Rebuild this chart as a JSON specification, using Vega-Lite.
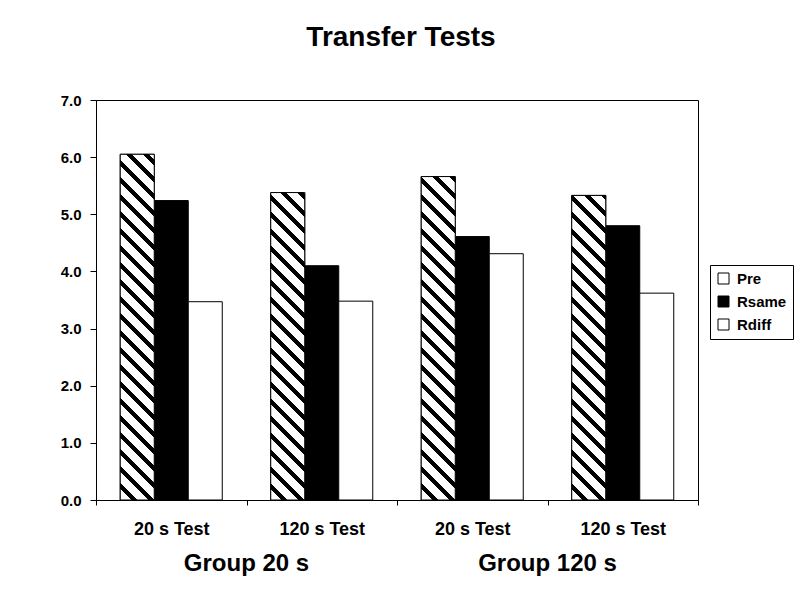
{
  "$schema": "https://vega.github.io/schema/vega-lite/v6.json",
  "width": 602,
  "height": 400,
  "autosize": {"type": "none"},
  "padding": {"left": 96, "top": 100, "right": 102, "bottom": 94},
  "background": "white",
  "title": {"text": "Transfer Tests", "fontSize": 28, "fontWeight": "bold", "font": "Liberation Sans", "color": "black", "anchor": "middle", "offset": 41, "dx": 4},
  "data": {"values": [
    {"cond": "Group 20 s|20 s Test", "group": "Group 20 s", "series": "Pre", "value": 6.05},
    {"cond": "Group 20 s|20 s Test", "group": "Group 20 s", "series": "Rsame", "value": 5.24},
    {"cond": "Group 20 s|20 s Test", "group": "Group 20 s", "series": "Rdiff", "value": 3.47},
    {"cond": "Group 20 s|120 s Test", "group": "Group 20 s", "series": "Pre", "value": 5.38},
    {"cond": "Group 20 s|120 s Test", "group": "Group 20 s", "series": "Rsame", "value": 4.10},
    {"cond": "Group 20 s|120 s Test", "group": "Group 20 s", "series": "Rdiff", "value": 3.48},
    {"cond": "Group 120 s|20 s Test", "group": "Group 120 s", "series": "Pre", "value": 5.66},
    {"cond": "Group 120 s|20 s Test", "group": "Group 120 s", "series": "Rsame", "value": 4.61},
    {"cond": "Group 120 s|20 s Test", "group": "Group 120 s", "series": "Rdiff", "value": 4.31},
    {"cond": "Group 120 s|120 s Test", "group": "Group 120 s", "series": "Pre", "value": 5.33},
    {"cond": "Group 120 s|120 s Test", "group": "Group 120 s", "series": "Rsame", "value": 4.80},
    {"cond": "Group 120 s|120 s Test", "group": "Group 120 s", "series": "Rdiff", "value": 3.62}
  ]},
  "layer": [
    {
      "encoding": {
        "x": {"field": "cond", "type": "nominal",
          "scale": {"type": "band", "domain": ["Group 20 s|20 s Test", "Group 20 s|120 s Test", "Group 120 s|20 s Test", "Group 120 s|120 s Test"], "paddingInner": 0, "paddingOuter": 0},
          "axis": {"title": null, "labelExpr": "split(datum.label, '|')[1]", "labelAngle": 0, "tickBand": "extent", "tickSize": 5, "labelPadding": 15, "labelFontSize": 18, "labelFontWeight": "bold", "labelColor": "black", "domainColor": "black", "tickColor": "black", "grid": false}},
        "xOffset": {"field": "series", "type": "nominal", "scale": {"type": "band", "domain": ["Pre", "Rsame", "Rdiff"], "paddingInner": 0, "paddingOuter": 0.713}},
        "y": {"field": "value", "type": "quantitative",
          "scale": {"domain": [0, 7], "nice": false},
          "axis": {"title": null, "values": [0, 1, 2, 3, 4, 5, 6, 7], "format": ".1f", "tickSize": 6, "labelPadding": 9, "labelFontSize": 15, "labelFontWeight": "bold", "labelColor": "black", "domainColor": "black", "tickColor": "black", "grid": false}}
      },
      "layer": [
        {
          "mark": {"type": "bar", "stroke": "black", "strokeWidth": 1},
          "encoding": {
            "color": {"field": "series", "type": "nominal",
              "scale": {"domain": ["Pre", "Rsame", "Rdiff"], "range": ["white", "black", "white"]},
              "legend": {"title": null, "orient": "none", "legendX": 614, "legendY": 165, "labelFontSize": 15, "labelFontWeight": "bold", "labelFont": "Liberation Sans", "labelColor": "black", "symbolType": "square", "symbolSize": 121, "symbolStrokeColor": "black", "symbolStrokeWidth": 1, "strokeColor": "black", "padding": 6, "rowPadding": 7, "labelOffset": 6}}
          }
        },
        {
          "transform": [{"filter": "datum.cond === 'Group 20 s|20 s Test' && datum.series === 'Pre'"}],
          "mark": {"type": "bar", "stroke": "black", "strokeWidth": 1, "fill": {"gradient": "linear", "x1": 0, "y1": 1, "x2": 0.1197, "y2": -0.2175, "stops": [{"offset":0,"color":"#fff"},{"offset":0.026,"color":"#fff"},{"offset":0.026,"color":"#000"},{"offset":0.04,"color":"#000"},{"offset":0.04,"color":"#fff"},{"offset":0.066,"color":"#fff"},{"offset":0.066,"color":"#000"},{"offset":0.08,"color":"#000"},{"offset":0.08,"color":"#fff"},{"offset":0.106,"color":"#fff"},{"offset":0.106,"color":"#000"},{"offset":0.12,"color":"#000"},{"offset":0.12,"color":"#fff"},{"offset":0.146,"color":"#fff"},{"offset":0.146,"color":"#000"},{"offset":0.16,"color":"#000"},{"offset":0.16,"color":"#fff"},{"offset":0.186,"color":"#fff"},{"offset":0.186,"color":"#000"},{"offset":0.2,"color":"#000"},{"offset":0.2,"color":"#fff"},{"offset":0.226,"color":"#fff"},{"offset":0.226,"color":"#000"},{"offset":0.24,"color":"#000"},{"offset":0.24,"color":"#fff"},{"offset":0.266,"color":"#fff"},{"offset":0.266,"color":"#000"},{"offset":0.28,"color":"#000"},{"offset":0.28,"color":"#fff"},{"offset":0.306,"color":"#fff"},{"offset":0.306,"color":"#000"},{"offset":0.32,"color":"#000"},{"offset":0.32,"color":"#fff"},{"offset":0.346,"color":"#fff"},{"offset":0.346,"color":"#000"},{"offset":0.36,"color":"#000"},{"offset":0.36,"color":"#fff"},{"offset":0.386,"color":"#fff"},{"offset":0.386,"color":"#000"},{"offset":0.4,"color":"#000"},{"offset":0.4,"color":"#fff"},{"offset":0.426,"color":"#fff"},{"offset":0.426,"color":"#000"},{"offset":0.44,"color":"#000"},{"offset":0.44,"color":"#fff"},{"offset":0.466,"color":"#fff"},{"offset":0.466,"color":"#000"},{"offset":0.48,"color":"#000"},{"offset":0.48,"color":"#fff"},{"offset":0.506,"color":"#fff"},{"offset":0.506,"color":"#000"},{"offset":0.52,"color":"#000"},{"offset":0.52,"color":"#fff"},{"offset":0.546,"color":"#fff"},{"offset":0.546,"color":"#000"},{"offset":0.56,"color":"#000"},{"offset":0.56,"color":"#fff"},{"offset":0.586,"color":"#fff"},{"offset":0.586,"color":"#000"},{"offset":0.6,"color":"#000"},{"offset":0.6,"color":"#fff"},{"offset":0.626,"color":"#fff"},{"offset":0.626,"color":"#000"},{"offset":0.64,"color":"#000"},{"offset":0.64,"color":"#fff"},{"offset":0.666,"color":"#fff"},{"offset":0.666,"color":"#000"},{"offset":0.68,"color":"#000"},{"offset":0.68,"color":"#fff"},{"offset":0.706,"color":"#fff"},{"offset":0.706,"color":"#000"},{"offset":0.72,"color":"#000"},{"offset":0.72,"color":"#fff"},{"offset":0.746,"color":"#fff"},{"offset":0.746,"color":"#000"},{"offset":0.76,"color":"#000"},{"offset":0.76,"color":"#fff"},{"offset":0.786,"color":"#fff"},{"offset":0.786,"color":"#000"},{"offset":0.8,"color":"#000"},{"offset":0.8,"color":"#fff"},{"offset":0.826,"color":"#fff"},{"offset":0.826,"color":"#000"},{"offset":0.84,"color":"#000"},{"offset":0.84,"color":"#fff"},{"offset":0.866,"color":"#fff"},{"offset":0.866,"color":"#000"},{"offset":0.88,"color":"#000"},{"offset":0.88,"color":"#fff"},{"offset":0.906,"color":"#fff"},{"offset":0.906,"color":"#000"},{"offset":0.92,"color":"#000"},{"offset":0.92,"color":"#fff"},{"offset":1,"color":"#fff"}]}}
        },
        {
          "transform": [{"filter": "datum.cond === 'Group 20 s|120 s Test' && datum.series === 'Pre'"}],
          "mark": {"type": "bar", "stroke": "black", "strokeWidth": 1, "fill": {"gradient": "linear", "x1": 0, "y1": 1, "x2": 0.1511, "y2": -0.3658, "stops": [{"offset":0,"color":"#fff"},{"offset":0.026,"color":"#fff"},{"offset":0.026,"color":"#000"},{"offset":0.04,"color":"#000"},{"offset":0.04,"color":"#fff"},{"offset":0.066,"color":"#fff"},{"offset":0.066,"color":"#000"},{"offset":0.08,"color":"#000"},{"offset":0.08,"color":"#fff"},{"offset":0.106,"color":"#fff"},{"offset":0.106,"color":"#000"},{"offset":0.12,"color":"#000"},{"offset":0.12,"color":"#fff"},{"offset":0.146,"color":"#fff"},{"offset":0.146,"color":"#000"},{"offset":0.16,"color":"#000"},{"offset":0.16,"color":"#fff"},{"offset":0.186,"color":"#fff"},{"offset":0.186,"color":"#000"},{"offset":0.2,"color":"#000"},{"offset":0.2,"color":"#fff"},{"offset":0.226,"color":"#fff"},{"offset":0.226,"color":"#000"},{"offset":0.24,"color":"#000"},{"offset":0.24,"color":"#fff"},{"offset":0.266,"color":"#fff"},{"offset":0.266,"color":"#000"},{"offset":0.28,"color":"#000"},{"offset":0.28,"color":"#fff"},{"offset":0.306,"color":"#fff"},{"offset":0.306,"color":"#000"},{"offset":0.32,"color":"#000"},{"offset":0.32,"color":"#fff"},{"offset":0.346,"color":"#fff"},{"offset":0.346,"color":"#000"},{"offset":0.36,"color":"#000"},{"offset":0.36,"color":"#fff"},{"offset":0.386,"color":"#fff"},{"offset":0.386,"color":"#000"},{"offset":0.4,"color":"#000"},{"offset":0.4,"color":"#fff"},{"offset":0.426,"color":"#fff"},{"offset":0.426,"color":"#000"},{"offset":0.44,"color":"#000"},{"offset":0.44,"color":"#fff"},{"offset":0.466,"color":"#fff"},{"offset":0.466,"color":"#000"},{"offset":0.48,"color":"#000"},{"offset":0.48,"color":"#fff"},{"offset":0.506,"color":"#fff"},{"offset":0.506,"color":"#000"},{"offset":0.52,"color":"#000"},{"offset":0.52,"color":"#fff"},{"offset":0.546,"color":"#fff"},{"offset":0.546,"color":"#000"},{"offset":0.56,"color":"#000"},{"offset":0.56,"color":"#fff"},{"offset":0.586,"color":"#fff"},{"offset":0.586,"color":"#000"},{"offset":0.6,"color":"#000"},{"offset":0.6,"color":"#fff"},{"offset":0.626,"color":"#fff"},{"offset":0.626,"color":"#000"},{"offset":0.64,"color":"#000"},{"offset":0.64,"color":"#fff"},{"offset":0.666,"color":"#fff"},{"offset":0.666,"color":"#000"},{"offset":0.68,"color":"#000"},{"offset":0.68,"color":"#fff"},{"offset":0.706,"color":"#fff"},{"offset":0.706,"color":"#000"},{"offset":0.72,"color":"#000"},{"offset":0.72,"color":"#fff"},{"offset":0.746,"color":"#fff"},{"offset":0.746,"color":"#000"},{"offset":0.76,"color":"#000"},{"offset":0.76,"color":"#fff"},{"offset":0.786,"color":"#fff"},{"offset":0.786,"color":"#000"},{"offset":0.8,"color":"#000"},{"offset":0.8,"color":"#fff"},{"offset":0.826,"color":"#fff"},{"offset":0.826,"color":"#000"},{"offset":0.84,"color":"#000"},{"offset":0.84,"color":"#fff"},{"offset":0.866,"color":"#fff"},{"offset":0.866,"color":"#000"},{"offset":0.88,"color":"#000"},{"offset":0.88,"color":"#fff"},{"offset":0.906,"color":"#fff"},{"offset":0.906,"color":"#000"},{"offset":0.92,"color":"#000"},{"offset":0.92,"color":"#fff"},{"offset":1,"color":"#fff"}]}}
        },
        {
          "transform": [{"filter": "datum.cond === 'Group 120 s|20 s Test' && datum.series === 'Pre'"}],
          "mark": {"type": "bar", "stroke": "black", "strokeWidth": 1, "fill": {"gradient": "linear", "x1": 0, "y1": 1, "x2": 0.1366, "y2": -0.2996, "stops": [{"offset":0,"color":"#fff"},{"offset":0.026,"color":"#fff"},{"offset":0.026,"color":"#000"},{"offset":0.04,"color":"#000"},{"offset":0.04,"color":"#fff"},{"offset":0.066,"color":"#fff"},{"offset":0.066,"color":"#000"},{"offset":0.08,"color":"#000"},{"offset":0.08,"color":"#fff"},{"offset":0.106,"color":"#fff"},{"offset":0.106,"color":"#000"},{"offset":0.12,"color":"#000"},{"offset":0.12,"color":"#fff"},{"offset":0.146,"color":"#fff"},{"offset":0.146,"color":"#000"},{"offset":0.16,"color":"#000"},{"offset":0.16,"color":"#fff"},{"offset":0.186,"color":"#fff"},{"offset":0.186,"color":"#000"},{"offset":0.2,"color":"#000"},{"offset":0.2,"color":"#fff"},{"offset":0.226,"color":"#fff"},{"offset":0.226,"color":"#000"},{"offset":0.24,"color":"#000"},{"offset":0.24,"color":"#fff"},{"offset":0.266,"color":"#fff"},{"offset":0.266,"color":"#000"},{"offset":0.28,"color":"#000"},{"offset":0.28,"color":"#fff"},{"offset":0.306,"color":"#fff"},{"offset":0.306,"color":"#000"},{"offset":0.32,"color":"#000"},{"offset":0.32,"color":"#fff"},{"offset":0.346,"color":"#fff"},{"offset":0.346,"color":"#000"},{"offset":0.36,"color":"#000"},{"offset":0.36,"color":"#fff"},{"offset":0.386,"color":"#fff"},{"offset":0.386,"color":"#000"},{"offset":0.4,"color":"#000"},{"offset":0.4,"color":"#fff"},{"offset":0.426,"color":"#fff"},{"offset":0.426,"color":"#000"},{"offset":0.44,"color":"#000"},{"offset":0.44,"color":"#fff"},{"offset":0.466,"color":"#fff"},{"offset":0.466,"color":"#000"},{"offset":0.48,"color":"#000"},{"offset":0.48,"color":"#fff"},{"offset":0.506,"color":"#fff"},{"offset":0.506,"color":"#000"},{"offset":0.52,"color":"#000"},{"offset":0.52,"color":"#fff"},{"offset":0.546,"color":"#fff"},{"offset":0.546,"color":"#000"},{"offset":0.56,"color":"#000"},{"offset":0.56,"color":"#fff"},{"offset":0.586,"color":"#fff"},{"offset":0.586,"color":"#000"},{"offset":0.6,"color":"#000"},{"offset":0.6,"color":"#fff"},{"offset":0.626,"color":"#fff"},{"offset":0.626,"color":"#000"},{"offset":0.64,"color":"#000"},{"offset":0.64,"color":"#fff"},{"offset":0.666,"color":"#fff"},{"offset":0.666,"color":"#000"},{"offset":0.68,"color":"#000"},{"offset":0.68,"color":"#fff"},{"offset":0.706,"color":"#fff"},{"offset":0.706,"color":"#000"},{"offset":0.72,"color":"#000"},{"offset":0.72,"color":"#fff"},{"offset":0.746,"color":"#fff"},{"offset":0.746,"color":"#000"},{"offset":0.76,"color":"#000"},{"offset":0.76,"color":"#fff"},{"offset":0.786,"color":"#fff"},{"offset":0.786,"color":"#000"},{"offset":0.8,"color":"#000"},{"offset":0.8,"color":"#fff"},{"offset":0.826,"color":"#fff"},{"offset":0.826,"color":"#000"},{"offset":0.84,"color":"#000"},{"offset":0.84,"color":"#fff"},{"offset":0.866,"color":"#fff"},{"offset":0.866,"color":"#000"},{"offset":0.88,"color":"#000"},{"offset":0.88,"color":"#fff"},{"offset":0.906,"color":"#fff"},{"offset":0.906,"color":"#000"},{"offset":0.92,"color":"#000"},{"offset":0.92,"color":"#fff"},{"offset":1,"color":"#fff"}]}}
        },
        {
          "transform": [{"filter": "datum.cond === 'Group 120 s|120 s Test' && datum.series === 'Pre'"}],
          "mark": {"type": "bar", "stroke": "black", "strokeWidth": 1, "fill": {"gradient": "linear", "x1": 0, "y1": 1, "x2": 0.1538, "y2": -0.3782, "stops": [{"offset":0,"color":"#fff"},{"offset":0.026,"color":"#fff"},{"offset":0.026,"color":"#000"},{"offset":0.04,"color":"#000"},{"offset":0.04,"color":"#fff"},{"offset":0.066,"color":"#fff"},{"offset":0.066,"color":"#000"},{"offset":0.08,"color":"#000"},{"offset":0.08,"color":"#fff"},{"offset":0.106,"color":"#fff"},{"offset":0.106,"color":"#000"},{"offset":0.12,"color":"#000"},{"offset":0.12,"color":"#fff"},{"offset":0.146,"color":"#fff"},{"offset":0.146,"color":"#000"},{"offset":0.16,"color":"#000"},{"offset":0.16,"color":"#fff"},{"offset":0.186,"color":"#fff"},{"offset":0.186,"color":"#000"},{"offset":0.2,"color":"#000"},{"offset":0.2,"color":"#fff"},{"offset":0.226,"color":"#fff"},{"offset":0.226,"color":"#000"},{"offset":0.24,"color":"#000"},{"offset":0.24,"color":"#fff"},{"offset":0.266,"color":"#fff"},{"offset":0.266,"color":"#000"},{"offset":0.28,"color":"#000"},{"offset":0.28,"color":"#fff"},{"offset":0.306,"color":"#fff"},{"offset":0.306,"color":"#000"},{"offset":0.32,"color":"#000"},{"offset":0.32,"color":"#fff"},{"offset":0.346,"color":"#fff"},{"offset":0.346,"color":"#000"},{"offset":0.36,"color":"#000"},{"offset":0.36,"color":"#fff"},{"offset":0.386,"color":"#fff"},{"offset":0.386,"color":"#000"},{"offset":0.4,"color":"#000"},{"offset":0.4,"color":"#fff"},{"offset":0.426,"color":"#fff"},{"offset":0.426,"color":"#000"},{"offset":0.44,"color":"#000"},{"offset":0.44,"color":"#fff"},{"offset":0.466,"color":"#fff"},{"offset":0.466,"color":"#000"},{"offset":0.48,"color":"#000"},{"offset":0.48,"color":"#fff"},{"offset":0.506,"color":"#fff"},{"offset":0.506,"color":"#000"},{"offset":0.52,"color":"#000"},{"offset":0.52,"color":"#fff"},{"offset":0.546,"color":"#fff"},{"offset":0.546,"color":"#000"},{"offset":0.56,"color":"#000"},{"offset":0.56,"color":"#fff"},{"offset":0.586,"color":"#fff"},{"offset":0.586,"color":"#000"},{"offset":0.6,"color":"#000"},{"offset":0.6,"color":"#fff"},{"offset":0.626,"color":"#fff"},{"offset":0.626,"color":"#000"},{"offset":0.64,"color":"#000"},{"offset":0.64,"color":"#fff"},{"offset":0.666,"color":"#fff"},{"offset":0.666,"color":"#000"},{"offset":0.68,"color":"#000"},{"offset":0.68,"color":"#fff"},{"offset":0.706,"color":"#fff"},{"offset":0.706,"color":"#000"},{"offset":0.72,"color":"#000"},{"offset":0.72,"color":"#fff"},{"offset":0.746,"color":"#fff"},{"offset":0.746,"color":"#000"},{"offset":0.76,"color":"#000"},{"offset":0.76,"color":"#fff"},{"offset":0.786,"color":"#fff"},{"offset":0.786,"color":"#000"},{"offset":0.8,"color":"#000"},{"offset":0.8,"color":"#fff"},{"offset":0.826,"color":"#fff"},{"offset":0.826,"color":"#000"},{"offset":0.84,"color":"#000"},{"offset":0.84,"color":"#fff"},{"offset":0.866,"color":"#fff"},{"offset":0.866,"color":"#000"},{"offset":0.88,"color":"#000"},{"offset":0.88,"color":"#fff"},{"offset":0.906,"color":"#fff"},{"offset":0.906,"color":"#000"},{"offset":0.92,"color":"#000"},{"offset":0.92,"color":"#fff"},{"offset":1,"color":"#fff"}]}}
        }
      ]
    },
    {
      "mark": {"type": "text"},
      "encoding": {
        "x": {"field": "group", "type": "nominal",
          "scale": {"type": "band", "domain": ["Group 20 s", "Group 120 s"], "paddingInner": 0, "paddingOuter": 0},
          "axis": {"orient": "bottom", "title": null, "ticks": false, "tickSize": 0, "domain": false, "labelAngle": 0, "labelPadding": 51, "labelFontSize": 24, "labelFontWeight": "bold", "labelColor": "black", "grid": false}},
        "text": {"value": ""}
      }
    }
  ],
  "resolve": {"scale": {"x": "independent"}, "axis": {"x": "independent"}},
  "config": {
    "font": "Liberation Sans",
    "view": {"stroke": "black", "strokeWidth": 1},
    "axis": {"labelFont": "Liberation Sans"},
    "legend": {"labelFont": "Liberation Sans"}
  }
}
